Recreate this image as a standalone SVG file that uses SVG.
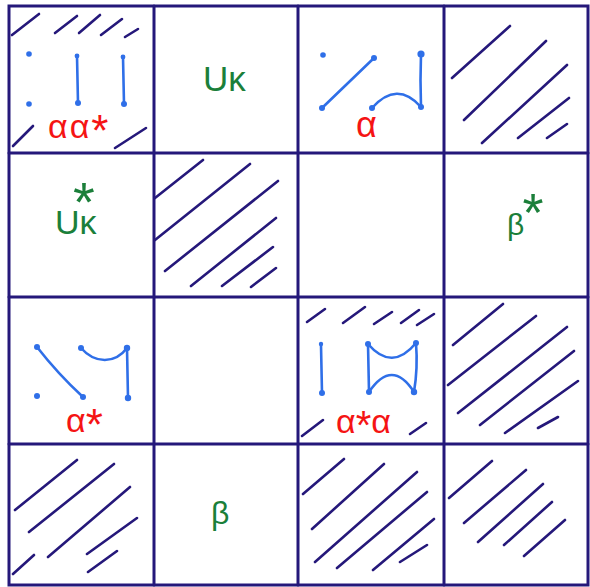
<svg xmlns="http://www.w3.org/2000/svg" width="590" height="587" viewBox="0 0 590 587">
<defs>
<style>
.grid{stroke:#25187a;stroke-width:3;fill:none;stroke-linecap:round}
.hatch{stroke:#25187a;stroke-width:2.6;fill:none;stroke-linecap:round}
.blue{stroke:#2f6fe8;stroke-width:2.6;fill:none;stroke-linecap:round;stroke-linejoin:round}
.dot{fill:#2f6fe8}
.red{fill:#f51414;font-family:"Liberation Sans",Arial,sans-serif}
.green{fill:#1b7f3a;font-family:"Liberation Sans",Arial,sans-serif}
</style>
</defs>
<rect width="590" height="587" fill="#ffffff"/>
<g id="grid">
<rect class="grid" x="9" y="6" width="579" height="579"/>
<line class="grid" x1="154" y1="6" x2="154" y2="585"/>
<line class="grid" x1="298" y1="6" x2="298" y2="585"/>
<line class="grid" x1="444" y1="6" x2="444" y2="585"/>
<line class="grid" x1="9" y1="153" x2="588" y2="153"/>
<line class="grid" x1="9" y1="297" x2="588" y2="297"/>
<line class="grid" x1="9" y1="444" x2="588" y2="444"/>
</g>
<g id="cell-0-0">
<path class="hatch" d="M12,35 L39,14 M55,33 L77,16 M79,33 L100,15 M101,35 L122,19 M125,37 L138,29 M13,146 L33,126 M115,148 L146,128"/>
<circle class="dot" cx="29" cy="54" r="2.8"/>
<circle class="dot" cx="29" cy="104" r="2.8"/>
<path class="blue" d="M77,56 L78,103 M123,57 L124,104"/>
<circle class="dot" cx="77" cy="56" r="2.4"/>
<circle class="dot" cx="78" cy="103" r="3"/>
<circle class="dot" cx="123" cy="57" r="2.4"/>
<circle class="dot" cx="124" cy="104" r="3"/>
<text class="red" x="48" y="138" font-size="34" letter-spacing="2">αα<tspan font-size="44" dy="8" letter-spacing="0">*</tspan></text>
</g>
<g id="cell-0-1">
<text class="green" x="203" y="91" font-size="35">Uκ</text>
</g>
<g id="cell-0-2">
<circle class="dot" cx="323" cy="55" r="2.8"/>
<path class="blue" d="M322,108 L374,58"/>
<circle class="dot" cx="322" cy="108" r="3"/>
<circle class="dot" cx="374" cy="58" r="3"/>
<path class="blue" d="M372,108 Q397,80 421,107 Q420,80 421,54"/>
<circle class="dot" cx="372" cy="108" r="3"/>
<circle class="dot" cx="421" cy="107" r="3"/>
<circle class="dot" cx="421" cy="54" r="3.6"/>
<text class="red" x="356" y="137" font-size="36">α</text>
</g>
<g id="cell-0-3">
<path class="hatch" d="M452,78 L510,26 M464,120 L546,41 M482,143 L567,65 M518,138 L569,98 M547,138 L567,124"/>
</g>
<g id="cell-1-0">
<text class="green" font-size="34"><tspan x="84" y="221" font-size="56" text-anchor="middle">*</tspan><tspan x="55" y="234">Uκ</tspan></text>
</g>
<g id="cell-1-1">
<path class="hatch" d="M155,198 L203,160 M155,240 L250,164 M165,271 L278,181 M191,286 L276,218 M222,286 L273,247 M251,287 L276,268"/>
</g>
<g id="cell-1-2"></g>
<g id="cell-1-3">
<text class="green" x="507" y="235" font-size="30">β<tspan x="533" y="231" font-size="54" text-anchor="middle">*</tspan></text>
</g>
<g id="cell-2-0">
<path class="blue" d="M37,347 Q58,374 83,397"/>
<path class="blue" d="M81,348 C95,364 115,364 127,348 L128,398"/>
<circle class="dot" cx="37" cy="347" r="3"/>
<circle class="dot" cx="37" cy="396" r="3"/>
<circle class="dot" cx="83" cy="397" r="3"/>
<circle class="dot" cx="81" cy="348" r="3"/>
<circle class="dot" cx="127" cy="348" r="3.2"/>
<circle class="dot" cx="128" cy="398" r="3.2"/>
<text class="red" x="66" y="432" font-size="34">α<tspan font-size="44" dy="8">*</tspan></text>
</g>
<g id="cell-2-1"></g>
<g id="cell-2-2">
<path class="hatch" d="M307,322 L325,309 M343,323 L365,307 M374,324 L392,312 M401,323 L419,310 M417,325 L434,314 M302,436 L323,420 M410,434 L426,423"/>
<path class="blue" d="M321,345 L322,393"/>
<circle class="dot" cx="321" cy="344" r="2.2"/>
<circle class="dot" cx="322" cy="393" r="3"/>
<path class="blue" d="M368,344 Q392,372 416,343 Q418,368 414,392 Q392,358 369,392 Z"/>
<circle class="dot" cx="368" cy="344" r="3"/>
<circle class="dot" cx="416" cy="343" r="3"/>
<circle class="dot" cx="369" cy="392" r="3"/>
<circle class="dot" cx="414" cy="392" r="3.2"/>
<text class="red" x="336" y="433" font-size="34">α<tspan font-size="40" dy="6">*</tspan><tspan font-size="34" dy="-6">α</tspan></text>
</g>
<g id="cell-2-3">
<path class="hatch" d="M453,345 L503,304 M448,385 L536,316 M458,413 L567,327 M480,425 L574,351 M505,433 L578,381 M538,428 L558,417"/>
</g>
<g id="cell-3-0">
<path class="hatch" d="M15,510 L77,460 M29,532 L114,464 M48,557 L130,487 M13,574 L34,555 M87,554 L137,518 M88,572 L117,551"/>
</g>
<g id="cell-3-1">
<text class="green" x="211" y="524" font-size="32">β</text>
</g>
<g id="cell-3-2">
<path class="hatch" d="M303,494 L344,459 M312,529 L384,464 M315,562 L417,472 M337,568 L427,492 M373,570 L434,519 M400,562 L427,545"/>
</g>
<g id="cell-3-3">
<path class="hatch" d="M449,498 L492,461 M464,523 L526,470 M478,542 L543,484 M504,545 L552,502 M524,556 L565,520"/>
</g>
</svg>
